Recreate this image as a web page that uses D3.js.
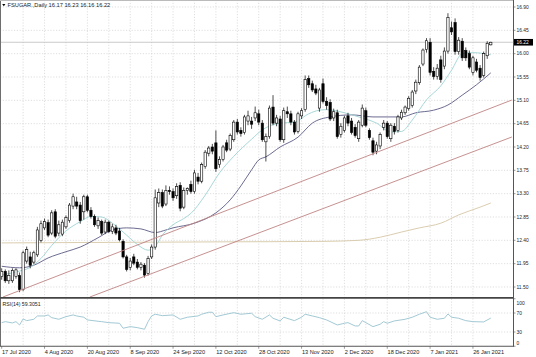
<!DOCTYPE html>
<html><head><meta charset="utf-8">
<script src="https://cdn.jsdelivr.net/npm/d3@7"></script>
<style>body{margin:0;background:#fff}svg{display:block}text{font-family:"Liberation Sans",Arial,sans-serif}</style>
</head><body>
<svg id="c" width="536" height="357"></svg>
<script>
// ---- data ----
const opens  = [11.70,11.80,11.62,11.62,11.70,11.72,11.45,12.00,12.08,11.98,12.12,12.40,12.64,12.74,12.54,12.95,12.54,12.52,12.66,12.78,
13.06,13.14,13.08,12.95,13.24,12.98,12.86,12.68,12.76,12.56,12.75,12.57,12.64,12.58,12.38,12.08,11.88,12.08,11.98,11.88,
11.92,11.76,12.08,12.27,13.12,13.32,13.10,13.36,13.34,13.26,13.46,13.04,13.36,13.48,13.34,13.62,13.54,13.82,14.08,14.20,
14.28,13.86,13.96,14.28,14.16,14.34,14.68,14.52,14.48,14.70,14.70,14.76,14.84,14.66,14.30,14.40,14.97,14.66,14.74,14.34,
14.88,14.84,14.68,14.50,14.80,14.92,15.52,15.42,15.32,14.95,15.42,15.08,15.06,14.76,14.86,14.44,14.52,14.80,14.70,14.58,
14.36,14.62,14.90,14.52,14.32,14.12,14.22,14.58,14.66,14.36,14.60,14.52,14.76,14.86,14.94,15.00,15.28,15.44,15.80,16.08,
16.22,15.66,15.56,15.88,15.76,16.05,16.50,16.60,16.04,16.24,16.06,16.00,15.64,15.84,15.72,15.58,15.96,16.17];
const highs  = [11.86,11.84,11.82,11.86,11.86,11.78,12.20,12.28,12.18,12.20,12.66,12.78,12.82,12.80,12.98,13.00,12.78,12.80,12.88,13.12,
13.30,13.24,13.14,13.28,13.28,13.04,12.90,12.84,12.80,12.80,12.78,12.72,12.70,12.64,12.42,12.12,12.06,12.14,12.04,11.98,
11.96,12.10,12.32,13.38,13.40,13.38,13.46,13.44,13.40,13.50,13.52,13.42,13.42,13.55,13.76,13.70,13.90,14.14,14.22,14.26,
14.52,14.02,14.24,14.34,14.46,14.72,14.74,14.58,14.82,14.90,14.78,14.98,14.92,14.72,14.46,15.00,15.20,14.82,14.80,14.96,
14.98,14.90,14.72,14.88,14.95,15.58,15.58,15.48,15.40,15.34,15.52,15.16,15.12,14.94,14.92,14.66,14.80,14.86,14.76,14.64,
14.72,15.02,14.96,14.56,14.38,14.30,14.48,14.72,14.70,14.66,14.66,14.82,14.92,15.00,15.18,15.30,15.50,15.78,16.10,16.30,
16.30,15.74,15.80,15.96,16.12,16.78,16.62,16.68,16.32,16.30,16.12,16.06,15.96,15.90,15.78,16.04,16.24,16.23];
const lows   = [11.64,11.58,11.56,11.58,11.66,11.40,11.42,11.95,11.86,11.94,12.08,12.36,12.60,12.46,12.50,12.44,12.48,12.48,12.62,12.74,
13.00,13.00,12.72,12.80,12.94,12.82,12.66,12.62,12.50,12.52,12.54,12.52,12.50,12.38,12.05,11.80,11.82,11.92,11.84,11.82,
11.68,11.72,12.04,12.22,13.04,13.02,13.06,13.28,13.16,13.20,12.96,13.00,13.28,13.30,13.30,13.48,13.50,13.78,14.02,14.06,
13.72,13.80,13.92,14.10,14.12,14.30,14.44,14.40,14.44,14.62,14.55,14.70,14.62,14.30,13.92,14.36,14.62,14.60,14.30,14.28,
14.76,14.62,14.44,14.46,14.74,14.88,15.34,15.26,15.20,14.88,15.04,14.92,14.70,14.70,14.36,14.38,14.48,14.60,14.44,14.38,
14.30,14.58,14.58,14.34,14.04,14.06,14.16,14.52,14.36,14.30,14.44,14.48,14.72,14.82,14.90,14.96,15.22,15.40,15.76,16.02,
15.58,15.50,15.50,15.44,15.70,16.00,16.36,15.98,15.98,15.86,15.86,15.70,15.58,15.64,15.48,15.54,15.90,16.16];
const closes = [11.80,11.62,11.72,11.82,11.83,11.45,12.16,12.22,11.92,12.16,12.60,12.72,12.76,12.50,12.93,12.48,12.70,12.75,12.84,13.08,
13.24,13.06,12.78,13.24,12.98,12.86,12.70,12.78,12.54,12.75,12.57,12.66,12.54,12.41,12.08,11.84,12.00,11.96,11.88,11.94,
11.73,12.05,12.27,13.22,13.32,13.06,13.36,13.34,13.22,13.44,13.02,13.36,13.40,13.34,13.70,13.54,13.86,14.10,14.18,14.12,
13.78,13.96,14.20,14.14,14.42,14.68,14.49,14.46,14.78,14.80,14.64,14.86,14.68,14.34,14.40,14.95,14.66,14.76,14.34,14.90,
14.84,14.68,14.49,14.84,14.90,15.50,15.40,15.30,15.24,15.30,15.08,15.00,14.74,14.88,14.40,14.60,14.76,14.66,14.48,14.42,
14.68,14.95,14.62,14.38,14.10,14.24,14.44,14.66,14.40,14.62,14.50,14.78,14.87,14.97,15.14,15.26,15.45,15.74,16.07,16.25,
15.64,15.56,15.72,15.50,16.05,16.70,16.42,16.04,16.26,15.92,15.92,15.74,15.92,15.68,15.54,16.00,16.20,16.22];

const dateLabels = ["17 Jul 2020","4 Aug 2020","20 Aug 2020","8 Sep 2020","24 Sep 2020","12 Oct 2020",
                    "28 Oct 2020","13 Nov 2020","2 Dec 2020","18 Dec 2020","7 Jan 2021","26 Jan 2021"];
const dateLabelBars = [0,12,24,36,48,60,72,84,96,108,120,132];
const priceTicks = [11.50,11.95,12.40,12.85,13.30,13.75,14.20,14.65,15.10,15.55,16.00,16.45,16.90];
const rsiTicks = [100,70,30,0];

// moving averages sampled as [bar, price]
const maFast = [[0,11.73],[4,11.79],[8,11.88],[11,12.05],[14,12.30],[18,12.58],[22,12.76],[25,12.86],[28,12.85],[31,12.73],
 [35,12.50],[38,12.32],[41,12.21],[43,12.28],[45,12.50],[48,12.70],[51,12.82],[53,12.92],[57,13.27],[61,13.70],[65,14.02],
 [70,14.35],[73,14.53],[78,14.66],[82,14.68],[86,14.84],[89,14.91],[91,14.92],[96,14.86],[100,14.78],[105,14.66],[109,14.49],
 [112,14.50],[115,14.72],[119,15.11],[123,15.38],[126,15.68],[129,16.00],[132,16.02],[137,15.98]];
const maMid = [[0,11.90],[5,11.87],[9,11.92],[13,12.06],[18,12.18],[22,12.27],[27,12.45],[31,12.60],[35,12.64],[39,12.62],
 [43,12.55],[46,12.60],[48,12.64],[54,12.73],[60,12.93],[64,13.18],[67,13.45],[70,13.76],[72,13.95],[74,14.01],[78,14.20],
 [83,14.39],[87,14.66],[92,14.78],[98,14.82],[104,14.78],[112,14.78],[116,14.86],[121,14.91],[125,15.01],[129,15.20],
 [133,15.40],[137,15.63]];
const maSlow = [[0,12.35],[30,12.36],[60,12.37],[90,12.38],[100,12.40],[106,12.46],[112,12.56],[117,12.64],[123,12.73],
 [128,12.89],[134,13.04],[137,13.12]];
const trendUpper = [[0.36,11.307],[142.9,15.106]];
const trendLower = [[24.7,11.307],[142.9,14.393]];

const rsi = [[0,49.7],[1,51.8],[3,49.1],[4,51.8],[5,44.8],[6,57.5],[7,53.9],[9,56.8],[10,63.8],[12,63.8],[13,65.9],[14,60.2],
 [16,56.8],[18,62.3],[20,65.9],[21,63.8],[23,61.1],[24,55.4],[27,52.6],[28,51.8],[30,49.7],[33,48.4],[34,37.9],[36,41.3],
 [38,39.2],[40,35.8],[41,51.8],[42,63.8],[43,67.4],[45,64.4],[48,65.9],[50,56.8],[52,61.1],[55,63.8],[56,67.4],[58,71.6],
 [59,71.6],[60,62.3],[62,65.9],[65,70.7],[67,67.4],[70,69.5],[71,62.3],[73,56.8],[75,65.9],[76,58.9],[78,53.3],[79,61.1],
 [82,53.9],[84,61.1],[85,67.4],[87,63.8],[89,60.2],[91,55.4],[94,44.8],[96,48.4],[97,49.7],[99,42.7],[100,42.7],[101,53.9],
 [102,49.7],[104,41.3],[106,46.3],[107,51.8],[108,48.4],[110,53.3],[113,56.8],[115,61.1],[117,67.4],[119,72.8],[120,61.1],
 [122,56.8],[124,58.9],[125,68.0],[126,61.1],[128,58.9],[130,53.9],[132,51.8],[135,51.2],[137,59.3]];

const symbol = "FSUGAR.,Daily";
const lastBar = {o:16.17,h:16.23,l:16.16,c:16.22};
const rsiLabel = "RSI(14) 59.3051";

// ---- layout ----
const svg = d3.select("#c");
const axisX = 513, mainTop = 0, mainBot = 297.5, rsiTop = 298.75, rsiBot = 346.25;
const x = d3.scaleLinear().domain([0,137]).range([1.7, 1.7+3.57*137]);
const y = d3.scaleLinear().domain([11.307,17.035]).range([297,0]);
const yr = d3.scaleLinear().domain([0,100]).range([rsiBot, rsiTop]);

svg.append("rect").attr("width",536).attr("height",357).attr("fill","#fff");

const defs = svg.append("defs");
defs.append("clipPath").attr("id","mainClip").append("rect").attr("x",0).attr("y",0).attr("width",axisX).attr("height",mainBot);
defs.append("clipPath").attr("id","rsiClip").append("rect").attr("x",0).attr("y",rsiTop).attr("width",axisX).attr("height",rsiBot-rsiTop);

const gridCol = "#c9c9c9";
const gGrid = svg.append("g").attr("stroke",gridCol).attr("stroke-width",0.6).attr("stroke-dasharray","1.2,1.6");
// vertical grid every 6 bars
const vBars = d3.range(6,138,6);
vBars.forEach(b=>{
  gGrid.append("line").attr("x1",x(b)).attr("x2",x(b)).attr("y1",0).attr("y2",mainBot);
  gGrid.append("line").attr("x1",x(b)).attr("x2",x(b)).attr("y1",rsiTop).attr("y2",rsiBot);
});
priceTicks.forEach(p=>{
  gGrid.append("line").attr("x1",0).attr("x2",axisX).attr("y1",y(p)).attr("y2",y(p));
});
[70,30].forEach(v=>{
  gGrid.append("line").attr("x1",0).attr("x2",axisX).attr("y1",yr(v)).attr("y2",yr(v));
});

const main = svg.append("g").attr("clip-path","url(#mainClip)");
// current price line
main.append("line").attr("x1",0).attr("x2",axisX).attr("y1",y(lastBar.c)).attr("y2",y(lastBar.c))
  .attr("stroke","#bdbdbd").attr("stroke-width",0.8);

const line = d3.line().x(d=>x(d[0])).y(d=>y(d[1])).curve(d3.curveMonotoneX);
main.append("path").attr("d",line(maSlow)).attr("fill","none").attr("stroke","#d6c7a6").attr("stroke-width",0.9);
main.append("path").attr("d",line(maMid)).attr("fill","none").attr("stroke","#5b5a85").attr("stroke-width",0.9);
main.append("path").attr("d",line(maFast)).attr("fill","none").attr("stroke","#9fd3d3").attr("stroke-width",0.9);

// candles
const bw = 2.3;
const idx = d3.range(opens.length);
main.append("g").selectAll("line").data(idx).join("line")
  .attr("x1",i=>x(i)).attr("x2",i=>x(i)).attr("y1",i=>y(highs[i])).attr("y2",i=>y(lows[i]))
  .attr("stroke","#000").attr("stroke-width",0.7);
main.append("g").selectAll("rect").data(idx).join("rect")
  .attr("x",i=>x(i)-bw/2).attr("width",bw)
  .attr("y",i=>y(Math.max(opens[i],closes[i])))
  .attr("height",i=>Math.max(0.6,Math.abs(y(opens[i])-y(closes[i]))))
  .attr("fill",i=>closes[i]>=opens[i]?"#fff":"#000")
  .attr("stroke","#000").attr("stroke-width",0.6);

// trend lines
const tline = d3.line().x(d=>x(d[0])).y(d=>y(d[1]));
[trendUpper,trendLower].forEach(t=>{
  main.append("path").attr("d",tline(t)).attr("fill","none").attr("stroke","#c08585").attr("stroke-width",0.9);
});

// RSI
const rsiG = svg.append("g").attr("clip-path","url(#rsiClip)");
const rline = d3.line().x(d=>x(d[0])).y(d=>yr(d[1]));
rsiG.append("path").attr("d",rline(rsi)).attr("fill","none").attr("stroke","#97c3cf").attr("stroke-width",0.9);

// frame
const fr = svg.append("g").attr("stroke","#6e6e6e").attr("fill","none");
fr.append("line").attr("x1",0.5).attr("x2",0.5).attr("y1",0).attr("y2",rsiBot);
fr.append("line").attr("x1",0).attr("x2",axisX).attr("y1",0.5).attr("y2",0.5).attr("stroke","#bbb");
fr.append("line").attr("x1",axisX+0.5).attr("x2",axisX+0.5).attr("y1",0).attr("y2",rsiBot).attr("stroke","#555");
fr.append("line").attr("x1",0).attr("x2",axisX).attr("y1",297.9).attr("y2",297.9).attr("stroke","#444").attr("stroke-width",1.6);
fr.append("line").attr("x1",0).attr("x2",axisX+1).attr("y1",rsiBot).attr("y2",rsiBot).attr("stroke","#555");

// price axis
const fmt = d3.format(".2f");
const pa = svg.append("g");
priceTicks.forEach(p=>{
  pa.append("line").attr("x1",axisX).attr("x2",axisX+2.5).attr("y1",y(p)).attr("y2",y(p)).attr("stroke","#555").attr("stroke-width",0.6);
  pa.append("text").attr("x",axisX+3.5).attr("y",y(p)+1.8).attr("font-size",4.9).attr("fill","#222").text(fmt(p));
});
// current price box
pa.append("rect").attr("x",axisX+1).attr("y",y(lastBar.c)-3.3).attr("width",19).attr("height",6.6).attr("fill","#000");
pa.append("text").attr("x",axisX+3.5).attr("y",y(lastBar.c)+1.8).attr("font-size",4.9).attr("fill","#fff").text(fmt(lastBar.c));

// RSI axis
rsiTicks.forEach(v=>{
  const yy = Math.min(Math.max(yr(v), rsiTop+4), rsiBot-3);
  pa.append("line").attr("x1",axisX).attr("x2",axisX+2.5).attr("y1",yr(v)).attr("y2",yr(v)).attr("stroke","#555").attr("stroke-width",0.6);
  pa.append("text").attr("x",axisX+3.5).attr("y",yy+1.8).attr("font-size",4.9).attr("fill","#222").text(v);
});

// date axis
dateLabels.forEach((lab,k)=>{
  const xx = x(dateLabelBars[k]);
  pa.append("line").attr("x1",xx).attr("x2",xx).attr("y1",rsiBot).attr("y2",rsiBot+2.5).attr("stroke","#555").attr("stroke-width",0.6);
  pa.append("text").attr("x",xx+0.3).attr("y",354).attr("font-size",5.6).attr("fill","#222").text(lab);
});

// header
svg.append("path").attr("d","M2.2,4 L5.4,4 L3.8,6.2 Z").attr("fill","#000");
svg.append("text").attr("x",7.5).attr("y",7.2).attr("font-size",5.7).attr("fill","#222")
  .text(`${symbol} ${fmt(lastBar.o)} ${fmt(lastBar.h)} ${fmt(lastBar.l)} ${fmt(lastBar.c)}`);
svg.append("text").attr("x",2.5).attr("y",305.5).attr("font-size",5.2).attr("fill","#222").text(rsiLabel);
</script>
</body></html>
